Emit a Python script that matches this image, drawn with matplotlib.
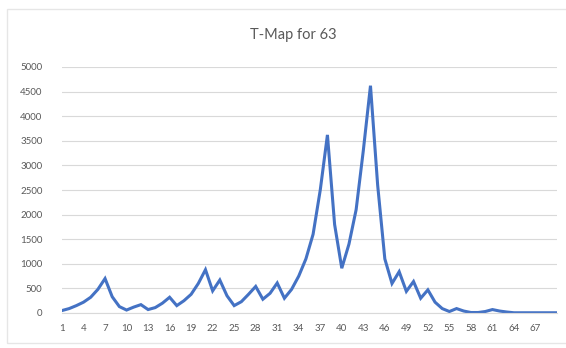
import matplotlib.pyplot as plt
import matplotlib.patches as patches
import numpy as np

# values
t_values = [50, 90, 150, 220, 320, 480, 700, 330, 130, 60,
            120, 170, 70, 110, 200, 320, 150, 250, 380, 600,
            880, 450, 670, 350, 150, 230, 380, 540, 280, 400,
            610, 300, 480, 750, 1100, 1600, 2500, 3620, 1800, 910,
            1400, 2100, 3300, 4620, 2600, 1100, 600, 840, 440, 640,
            300, 470, 220, 90, 30, 90, 40, 10, 10, 30,
            70, 40, 20, 5, 5, 5, 5, 5, 5, 5]
x_labels = list(range(1, 68, 3))
y_ticks = [0, 500, 1000, 1500, 2000, 2500, 3000, 3500, 4000, 4500, 5000]

W, H = 566, 348
fig = plt.figure(figsize=(W / 100, H / 100), dpi=100)
plt.rcParams['font.family'] = ['Lato', 'DejaVu Sans']

# faint chart border
fig.patches.append(patches.Rectangle((7 / W, 1 - 343 / H), 1.0, (343 - 9) / H,
                                     transform=fig.transFigure, fill=False,
                                     edgecolor='#e6e6e6', linewidth=1.0))

ax = fig.add_axes([62 / W, 1 - 313 / H, (557 - 62) / W, (313 - 67) / H])
x = np.arange(1, len(t_values) + 1)
ax.plot(x, t_values, color='#4472C4', linewidth=2.2, solid_joinstyle='miter')

ax.set_xlim(1, len(t_values))
ax.set_ylim(0, 5000)
ax.set_yticks(y_ticks)
ax.set_xticks(x_labels)
ax.set_xticklabels([str(v) for v in x_labels])
ax.grid(axis='y', color='#d9d9d9', linewidth=0.8)
ax.set_axisbelow(True)
for s in ['top', 'right', 'left']:
    ax.spines[s].set_visible(False)
ax.spines['bottom'].set_color('#d9d9d9')
ax.tick_params(axis='both', length=0, labelsize=7, labelcolor='#595959')
ax.tick_params(axis='y', pad=14)
ax.tick_params(axis='x', pad=8)

fig.text(293 / W, 1 - 35 / H, 'T-Map for 63', ha='center', va='center',
         fontsize=10.5, color='#595959')

fig.savefig('out.png', dpi=100)
